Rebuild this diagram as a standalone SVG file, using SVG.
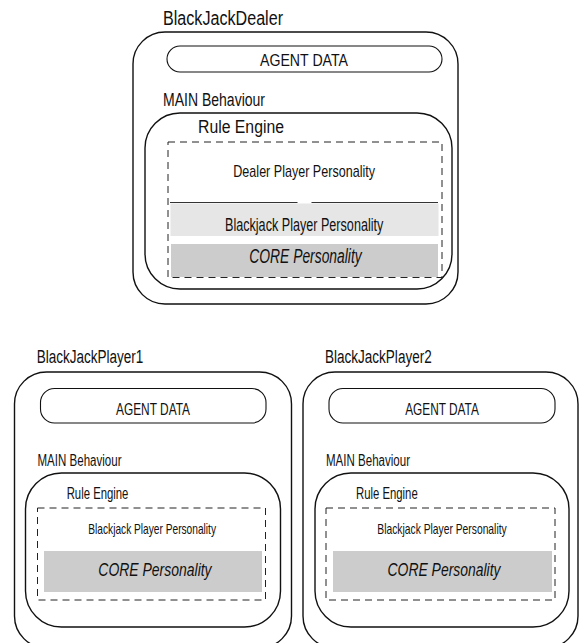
<svg xmlns="http://www.w3.org/2000/svg" width="579" height="643" viewBox="0 0 579 643">
  <style>
    text { font-family: "Liberation Sans Narrow", "Liberation Sans", Arial, sans-serif; fill: #111; }
    .frame { fill: #fff; stroke: #111; stroke-width: 1.4; }
    .pill { fill: #fff; stroke: #111; stroke-width: 1.1; }
    .engine { fill: none; stroke: #222; stroke-width: 1; stroke-dasharray: 7 5; }
    .light { fill: #e6e6e6; }
    .dark { fill: #cccccc; }
    .sep { stroke: #333; stroke-width: 1.2; }
    .mid { text-anchor: middle; }
    .it { font-style: italic; }
  </style>

  <!-- Dealer agent -->
  <g id="dealer">
    <text x="163" y="25" font-size="20" textLength="120" lengthAdjust="spacingAndGlyphs">BlackJackDealer</text>
    <rect class="frame" x="133" y="32" width="325" height="272" rx="32"/>
    <rect class="pill" x="167" y="46" width="275" height="26" rx="13"/>
    <text class="mid" x="304" y="65.5" font-size="16" textLength="88" lengthAdjust="spacingAndGlyphs">AGENT DATA</text>
    <text x="163" y="106" font-size="18" textLength="102" lengthAdjust="spacingAndGlyphs">MAIN Behaviour</text>
    <rect class="frame" x="145" y="113" width="307" height="176" rx="35"/>
    <text x="198" y="133" font-size="18" textLength="86" lengthAdjust="spacingAndGlyphs">Rule Engine</text>
    <rect class="light" x="170.5" y="203.5" width="268" height="32.5"/>
    <rect class="dark" x="171" y="244" width="267" height="33"/>
    <line class="sep" x1="170" y1="202.5" x2="297.5" y2="202.5"/>
    <line class="sep" x1="311.5" y1="202.5" x2="438" y2="202.5"/>
    <rect class="engine" x="168" y="142" width="274" height="135.5"/>
    <text x="233.3" y="176.7" font-size="17" textLength="141.7" lengthAdjust="spacingAndGlyphs">Dealer Player Personality</text>
    <text x="225" y="230.5" font-size="17.5" textLength="158.3" lengthAdjust="spacingAndGlyphs">Blackjack Player Personality</text>
    <text class="it" x="249.3" y="263" font-size="20" textLength="112.4" lengthAdjust="spacingAndGlyphs">CORE Personality</text>
  </g>

  <!-- Player agents -->
  <g id="player1">
    <text x="36.7" y="363" font-size="18" textLength="106.7" lengthAdjust="spacingAndGlyphs">BlackJackPlayer1</text>
    <rect class="frame" x="14.5" y="372" width="277" height="276" rx="32"/>
    <rect class="pill" x="40.5" y="388.5" width="225.5" height="34.5" rx="14"/>
    <text class="mid" x="153" y="414.5" font-size="16" textLength="74" lengthAdjust="spacingAndGlyphs">AGENT DATA</text>
    <text x="37.5" y="466" font-size="16" textLength="84" lengthAdjust="spacingAndGlyphs">MAIN Behaviour</text>
    <rect class="frame" x="25.5" y="473" width="255" height="154" rx="36"/>
    <text x="66.7" y="499" font-size="16" textLength="61.7" lengthAdjust="spacingAndGlyphs">Rule Engine</text>
    <rect class="dark" x="44" y="551" width="218" height="41"/>
    <rect class="engine" x="37.5" y="508" width="228" height="92"/>
    <text x="88.3" y="533.8" font-size="14.5" textLength="127.7" lengthAdjust="spacingAndGlyphs">Blackjack Player Personality</text>
    <text class="it" x="98.3" y="576" font-size="18.5" textLength="113.3" lengthAdjust="spacingAndGlyphs">CORE Personality</text>
  </g>

  <g id="player2">
    <text x="325" y="363" font-size="18" textLength="106.7" lengthAdjust="spacingAndGlyphs">BlackJackPlayer2</text>
    <rect class="frame" x="303" y="372" width="275" height="276" rx="32"/>
    <rect class="pill" x="329" y="388.5" width="226" height="34.5" rx="14"/>
    <text class="mid" x="442" y="414.5" font-size="16" textLength="73.7" lengthAdjust="spacingAndGlyphs">AGENT DATA</text>
    <text x="326" y="466" font-size="16" textLength="84" lengthAdjust="spacingAndGlyphs">MAIN Behaviour</text>
    <rect class="frame" x="315" y="473" width="254" height="154" rx="36"/>
    <text x="356" y="499" font-size="16" textLength="61.7" lengthAdjust="spacingAndGlyphs">Rule Engine</text>
    <rect class="dark" x="333" y="551" width="219" height="41"/>
    <rect class="engine" x="326" y="508" width="229" height="92"/>
    <text x="377.3" y="533.8" font-size="14.5" textLength="129.4" lengthAdjust="spacingAndGlyphs">Blackjack Player Personality</text>
    <text class="it" x="387.5" y="576" font-size="18.5" textLength="113" lengthAdjust="spacingAndGlyphs">CORE Personality</text>
  </g>

  <g id="connectors"/>
</svg>
